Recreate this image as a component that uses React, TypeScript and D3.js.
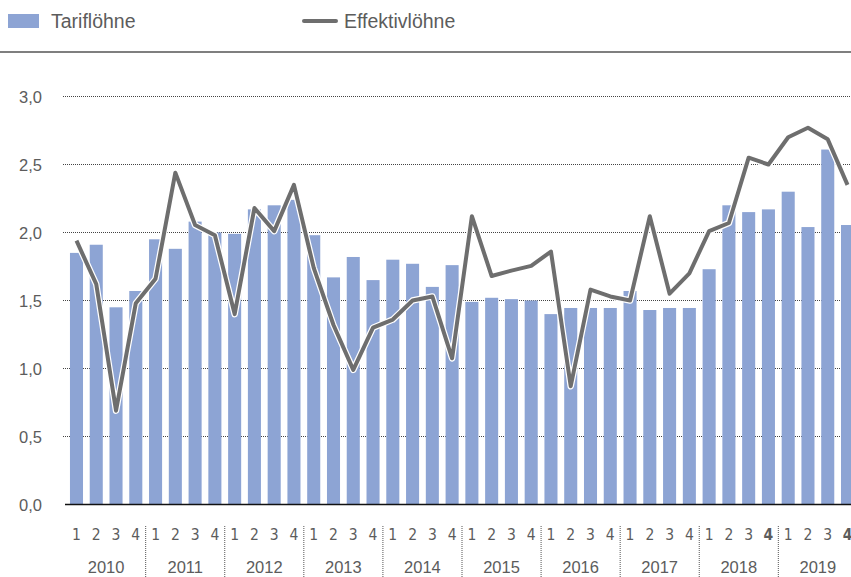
import React from 'react';
import * as d3 from 'd3';

// quarterly data 2010 Q1 .. 2019 Q4
const years: string[] = ['2010', '2011', '2012', '2013', '2014', '2015', '2016', '2017', '2018', '2019'];
const quarters: string[] = ['1', '2', '3', '4'];

const tarifloehne: number[] = [
    1.85, 1.91, 1.45, 1.57,
    1.95, 1.88, 2.08, 2.0,
    1.99, 2.17, 2.2, 2.24,
    1.98, 1.67, 1.82, 1.65,
    1.8, 1.77, 1.6, 1.76,
    1.49, 1.52, 1.51, 1.5,
    1.4, 1.445, 1.445, 1.445,
    1.57, 1.43, 1.445, 1.445,
    1.73, 2.2, 2.15, 2.17,
    2.3, 2.04, 2.61, 2.055,
];

const effektivloehne: number[] = [
    1.94, 1.62, 0.69, 1.48,
    1.66, 2.44, 2.055, 1.98,
    1.4, 2.18, 2.01, 2.35,
    1.74, 1.32, 0.99, 1.3,
    1.36, 1.5, 1.53, 1.075,
    2.12, 1.68, 1.72, 1.755,
    1.86, 0.87, 1.58, 1.53,
    1.5, 2.12, 1.55, 1.7,
    2.01, 2.07, 2.55, 2.5,
    2.7, 2.77, 2.685, 2.35,
];

const yTicks: number[] = [0, 0.5, 1.0, 1.5, 2.0, 2.5, 3.0];

const WIDTH = 851;
const HEIGHT = 577;
const BAR_COLOR = '#8da4d4';
const LINE_COLOR = '#6e6e6e';
const TEXT_COLOR = '#5c5c5c';
const FONT = '"Liberation Sans", Arial, sans-serif';
const NARROW = '"Liberation Sans Narrow", "DejaVu Sans Condensed", "Liberation Sans", sans-serif';

const App: React.FC = () => {
    const keys = years.flatMap(y => quarters.map(q => `${y}-${q}`));

    const x = d3.scaleBand<string>()
        .domain(keys)
        .range([66.6, 857.4])
        .paddingInner(0.34)
        .paddingOuter(0.17);

    const y = d3.scaleLinear()
        .domain([0, 3])
        .range([504.5, 96.5]);

    const line = d3.line<number>()
        .x((_, i) => (x(keys[i]) ?? 0) + x.bandwidth() / 2)
        .y(d => y(d));

    const fmt = (v: number) => d3.format('.1f')(v).replace('.', ',');
    const step = x.step();

    return (
        <>
            <style>{'body{margin:0}'}</style>
            <svg width={WIDTH} height={HEIGHT} style={{ display: 'block' }}>
                {/* legend */}
                <rect x={8} y={14} width={31} height={14} fill={BAR_COLOR} />
                <text x={51} y={28} fontFamily={FONT} fontSize={19.5} fill={TEXT_COLOR}>Tariflöhne</text>
                <line x1={304} x2={336} y1={21} y2={21} stroke={LINE_COLOR} strokeWidth={4} strokeLinecap="round" />
                <text x={344} y={28} fontFamily={FONT} fontSize={19.5} fill={TEXT_COLOR}>Effektivlöhne</text>
                <line x1={0} x2={WIDTH} y1={52} y2={52} stroke="#555" strokeWidth={1.5} />

                {/* grid + y axis */}
                {yTicks.map(t => (
                    <g key={t}>
                        {t > 0 && (
                            <line x1={63} x2={WIDTH} y1={y(t)} y2={y(t)}
                                stroke="#444" strokeWidth={1} strokeDasharray="1,1" />
                        )}
                        <text x={42} y={y(t) + 6} textAnchor="end" fontFamily={FONT}
                            fontSize={16.5} fill={TEXT_COLOR}>{fmt(t)}</text>
                    </g>
                ))}

                {/* bars */}
                {tarifloehne.map((v, i) => (
                    <rect key={keys[i]} x={x(keys[i])} y={y(v)} width={x.bandwidth()}
                        height={y(0) - y(v)} fill={BAR_COLOR} />
                ))}

                <line x1={65} x2={WIDTH} y1={y(0)} y2={y(0)} stroke="#111" strokeWidth={1.5} />

                {/* line with white halo */}
                <path d={line(effektivloehne) ?? ''} fill="none" stroke="#fff" strokeWidth={6.5} strokeLinejoin="round" />
                <path d={line(effektivloehne) ?? ''} fill="none" stroke={LINE_COLOR} strokeWidth={4} strokeLinejoin="round" />

                {/* x axis: quarters, years, separators */}
                {keys.map((k, i) => (
                    <text key={k} x={(x(k) ?? 0) + x.bandwidth() / 2} y={539.5} textAnchor="middle"
                        fontFamily={NARROW} fontSize={15.5} fill={TEXT_COLOR}
                        fontWeight={i >= 32 && i % 4 === 3 ? 'bold' : 'normal'}>
                        {quarters[i % 4]}
                    </text>
                ))}
                {years.map((yr, j) => {
                    const x0 = (x(`${yr}-1`) ?? 0) - step * 0.17;
                    const x1 = (x(`${yr}-4`) ?? 0) + x.bandwidth() + step * 0.17;
                    return (
                        <g key={yr}>
                            <text x={(x0 + x1) / 2} y={573} textAnchor="middle" fontFamily={FONT}
                                fontSize={16.5} fill={TEXT_COLOR}>{yr}</text>
                            {j > 0 && (
                                <line x1={x0} x2={x0} y1={526} y2={HEIGHT} stroke="#555"
                                    strokeWidth={1} strokeDasharray="1,1" />
                            )}
                        </g>
                    );
                })}
            </svg>
        </>
    );
};

export default App;
